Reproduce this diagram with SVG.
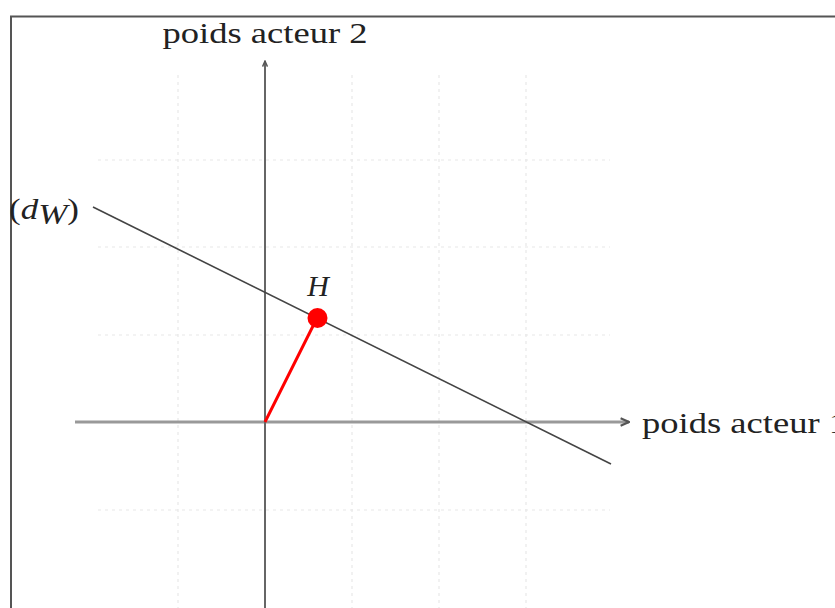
<svg xmlns="http://www.w3.org/2000/svg" width="835" height="608" viewBox="0 0 835 608">
<defs>
<style>
.grid{stroke:#e8e8e8;stroke-width:1.2;stroke-dasharray:3 4;fill:none}
.lbl{font-family:"Liberation Serif","Times New Roman",serif;font-size:30px;fill:#222}
.math{font-family:"Liberation Serif","Times New Roman",serif;font-style:italic;font-size:30px;fill:#222}
</style>
<marker id="arr" viewBox="0 0 10 10" refX="9" refY="5" markerWidth="3.5" markerHeight="3.5" orient="auto" markerUnits="strokeWidth">
<path d="M1,1.5 L9,5 L1,8.5" fill="none" stroke="#555" stroke-width="2"/>
</marker>
</defs>
<rect x="0" y="0" width="835" height="608" fill="#fff"/>
<path d="M11,608 V16.5 H835" fill="none" stroke="#555" stroke-width="2"/>
<g id="grid" class="grid">
<path d="M178,75 V608 M352,75 V608 M439,75 V608 M526,75 V608"/>
<path d="M98,160 H610 M98,247 H610 M98,335 H610 M98,510 H610"/>
</g>
<g id="connectors">
<line x1="75" y1="422" x2="629" y2="422" stroke="#999" stroke-width="3" marker-end="url(#arr)"/>
<line x1="265" y1="608" x2="265" y2="61" stroke="#666" stroke-width="2" marker-end="url(#arr)"/>
<line id="dW" x1="93" y1="207" x2="611" y2="464" stroke="#444" stroke-width="1.6"/>
<line x1="265" y1="422" x2="317" y2="318" stroke="#ff0000" stroke-width="3"/>
</g>
<g id="axis-y-label"><text class="lbl" x="265" y="43" text-anchor="middle" textLength="205" lengthAdjust="spacingAndGlyphs">poids acteur 2</text></g>
<g id="axis-x-label"><text class="lbl" x="642" y="433" textLength="205" lengthAdjust="spacingAndGlyphs">poids acteur 1</text></g>
<g id="dW-label"><text class="lbl" x="9" y="219" textLength="70" lengthAdjust="spacingAndGlyphs">(<tspan class="math">d</tspan><tspan class="math" font-size="21" dy="5">W</tspan><tspan dy="-5">)</tspan></text></g>
<g id="H"><circle cx="317.5" cy="318" r="10" fill="#ff0000"/><text class="math" x="318" y="296" text-anchor="middle">H</text></g>
</svg>
